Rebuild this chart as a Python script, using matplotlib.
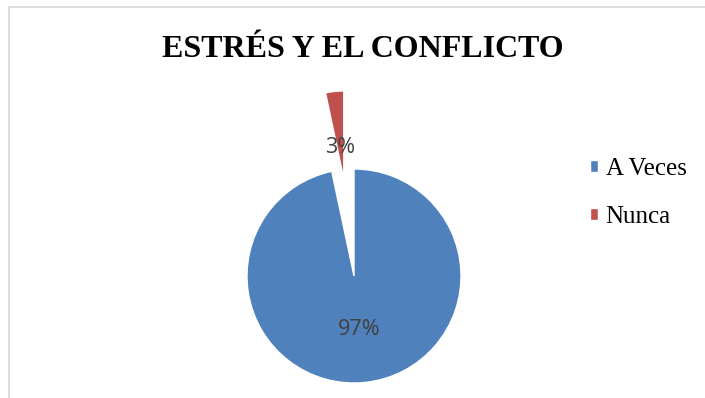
import matplotlib.pyplot as plt
import matplotlib.patches as mpatches
import numpy as np

# survey answers
categories = ['A Veces', 'Nunca']
counts = [29, 1]
colors = ['#4F81BD', '#C0504D']
explode = [0, 97.6]  # pie offsets are in data units (pixels here)

title = 'ESTRÉS Y EL CONFLICTO'

W, H = 705, 398
fig = plt.figure(figsize=(W / 100, H / 100), dpi=100)
ax = fig.add_axes([0, 0, 1, 1])

# light chart border (left and top edges)
ax.add_patch(mpatches.Rectangle((8.5, -20), W, H - 6.5 + 20, fill=False,
                                edgecolor='#d9d9d9', linewidth=1.3))

center = (354, H - 276)
radius = 107
wedges, texts, pcts = ax.pie(counts, colors=colors, explode=explode,
                             startangle=90, counterclock=False,
                             center=center, radius=radius, frame=True,
                             autopct='%.0f%%', pctdistance=0.5,
                             wedgeprops=dict(edgecolor='white', linewidth=1),
                             textprops=dict(color='#404040', fontsize=15.5,
                                            family='Open Sans'))
ax.set_xlim(0, W)
ax.set_ylim(0, H)
ax.set_axis_off()

# exploded slice is drawn smaller; move labels along each bisector
wedges[1].set_radius(88)
label_dist = [0.5, 0.3]
for w, t, d in zip(wedges, pcts, label_dist):
    mid = np.deg2rad((w.theta1 + w.theta2) / 2)
    cx, cy = w.center
    t.set_position((cx + d * radius * np.cos(mid), cy + d * radius * np.sin(mid)))

fig.text(363 / W, 1 - 57.3 / H, title, ha='center', va='baseline',
         family='Liberation Serif', fontweight='bold', fontsize=23)

fs = 18
ax.legend(wedges, categories, loc='center left',
          bbox_to_anchor=(590 / W, 1 - 193 / H), bbox_transform=fig.transFigure,
          frameon=False, borderpad=0, borderaxespad=0,
          handlelength=0.32, handleheight=0.32, handletextpad=0.3,
          labelspacing=1.05,
          prop=dict(family='Liberation Serif', size=fs))

fig.savefig('out.png', dpi=100)
